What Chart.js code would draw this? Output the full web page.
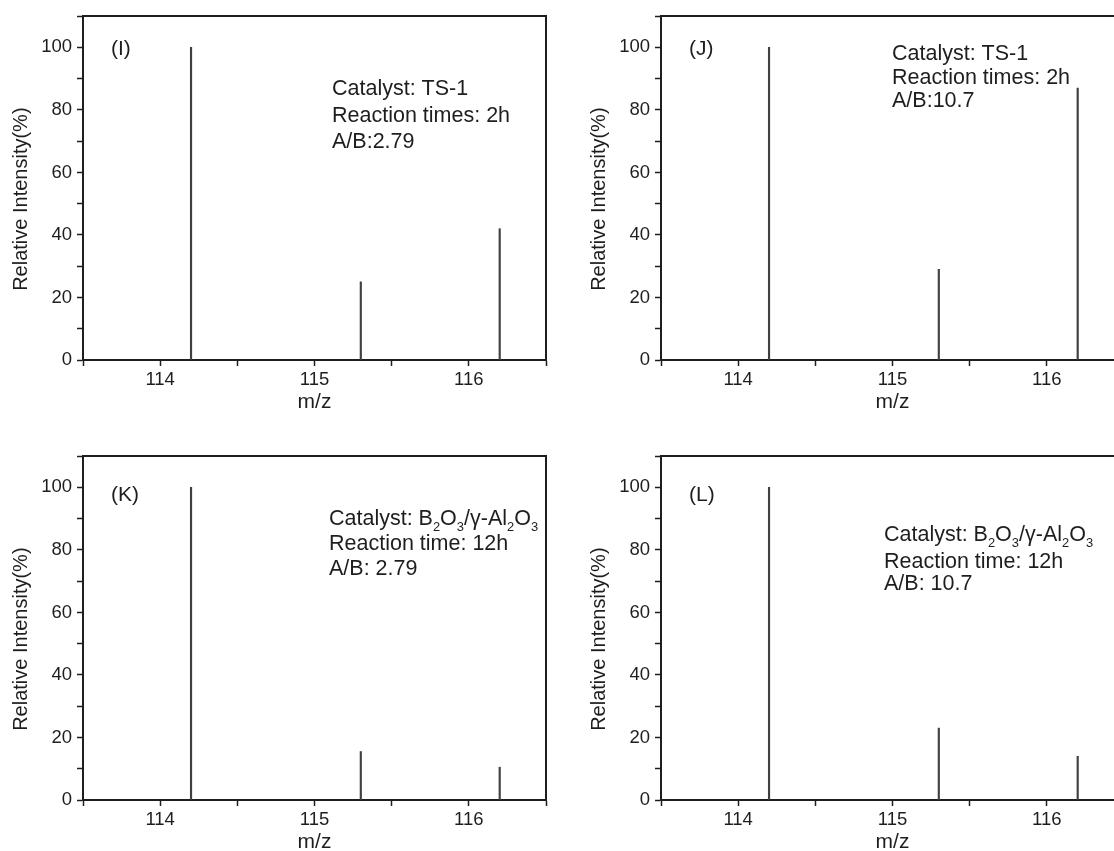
<!DOCTYPE html>
<html><head><meta charset="utf-8">
<script src="https://cdn.jsdelivr.net/npm/chart.js@4.4.1/dist/chart.umd.min.js"></script>
<style>
html,body{margin:0;padding:0;background:#fff;overflow:hidden;width:1114px;height:851px;position:relative;}
.p{position:absolute;width:560px;height:430px;}
</style></head><body>
<div class="p" style="left:0;top:0"><canvas id="cI" width="560" height="430"></canvas></div>
<div class="p" style="left:578px;top:0"><canvas id="cJ" width="560" height="430"></canvas></div>
<div class="p" style="left:0;top:440px"><canvas id="cK" width="560" height="430"></canvas></div>
<div class="p" style="left:578px;top:440px"><canvas id="cL" width="560" height="430"></canvas></div>
<script>
// ---- data ----
const mzValues = [114.2, 115.3, 116.2];
const intensityI = [100, 25, 42];
const intensityJ = [100, 29, 87];
const intensityK = [100, 15.5, 10.5];
const intensityL = [100, 23, 14];
const panelLabels = ['(I)', '(J)', '(K)', '(L)'];
const notesI = ['Catalyst: TS-1', 'Reaction times: 2h', 'A/B:2.79'];
const notesJ = ['Catalyst: TS-1', 'Reaction times: 2h', 'A/B:10.7'];
const notesK = ['Catalyst: B_2O_3/\u03b3-Al_2O_3', 'Reaction time: 12h', 'A/B: 2.79'];
const notesL = ['Catalyst: B_2O_3/\u03b3-Al_2O_3', 'Reaction time: 12h', 'A/B: 10.7'];
const xMin = 113.5, xMax = 116.5, xStep = 0.5;
const yMin = 0, yMax = 110, yStep = 10, yLabelStep = 20, yLabelMax = 100;
const xTitle = 'm/z';
const yTitle = 'Relative Intensity(%)';

const FONT = "'Liberation Sans', Arial, sans-serif";
const INK = '#1e1e1e';

function drawRich(ctx, text, x, y, size) {
  const parts = text.split(/_(\d)/);
  let cx = x;
  parts.forEach((p, i) => {
    if (p === '') return;
    const sub = i % 2 === 1;
    const s = sub ? size * 0.6 : size;
    ctx.font = s + 'px ' + FONT;
    ctx.fillText(p, cx, sub ? y + size * 0.28 : y);
    cx += ctx.measureText(p).width;
  });
}

const framePlugin = {
  id: 'frameNotes',
  afterDraw(chart, args, opts) {
    const {ctx, chartArea: a} = chart;
    ctx.save();
    ctx.strokeStyle = INK;
    ctx.lineWidth = 2;
    ctx.beginPath();
    ctx.moveTo(a.left - 1, a.top);
    ctx.lineTo(a.right, a.top);
    ctx.lineTo(a.right, a.bottom);
    ctx.stroke();
    ctx.fillStyle = INK;
    ctx.textBaseline = 'alphabetic';
    ctx.textAlign = 'left';
    ctx.font = opts.labelSize + 'px ' + FONT;
    ctx.fillText(opts.label, a.left + opts.labelDx, a.top + opts.labelBase);
    opts.lines.forEach((t, i) => {
      drawRich(ctx, t, a.left + opts.dx, a.top + opts.bases[i], opts.size);
    });
    ctx.restore();
  }
};

function makeChart(id, values, label, lines, dx, bases, labelBase) {
  new Chart(document.getElementById(id), {
    type: 'bar',
    data: {
      datasets: [{
        data: mzValues.map((x, i) => ({x: x, y: values[i]})),
        backgroundColor: '#404040',
        borderWidth: 0,
        barThickness: 1.5
      }]
    },
    options: {
      responsive: false,
      animation: false,
      layout: {padding: {top: 14, right: 14, left: 0, bottom: 0}},
      plugins: {
        legend: {display: false},
        tooltip: {enabled: false},
        frameNotes: {label: label, lines: lines, dx: dx, bases: bases, labelDx: 28, labelBase: labelBase, size: 21.5, labelSize: 21}
      },
      scales: {
        x: {
          type: 'linear', min: xMin, max: xMax, offset: false,
          afterFit: s => { s.height = 70; },
          border: {display: true, color: INK, width: 2},
          grid: {display: true, drawOnChartArea: false, drawTicks: true, tickLength: 6, tickColor: INK, tickWidth: 1.5, offset: false},
          ticks: {stepSize: xStep, autoSkip: false, maxRotation: 0, padding: 3, color: INK,
            font: {family: FONT, size: 18.5},
            callback: v => Number.isInteger(v) ? String(v) : ''},
          title: {display: true, text: xTitle, color: INK, font: {family: FONT, size: 21}, padding: {top: 0, bottom: 15}}
        },
        y: {
          type: 'linear', min: yMin, max: yMax,
          afterFit: s => { s.width = 83; },
          border: {display: true, color: INK, width: 2},
          grid: {display: true, drawOnChartArea: false, drawTicks: true, tickLength: 6, tickColor: INK, tickWidth: 1.5},
          ticks: {stepSize: yStep, autoSkip: false, padding: 5, color: INK,
            font: {family: FONT, size: 18.5},
            callback: v => (v % yLabelStep === 0 && v <= yLabelMax) ? String(v) : ''},
          title: {display: true, text: yTitle + '    ', color: INK, font: {family: FONT, size: 20}, padding: {top: 9, bottom: 0}}
        }
      }
    },
    plugins: [framePlugin]
  });
}

makeChart('cI', intensityI, panelLabels[0], notesI, 249, [79, 106, 132], 39);
makeChart('cJ', intensityJ, panelLabels[1], notesJ, 231, [44, 68, 91], 39);
makeChart('cK', intensityK, panelLabels[2], notesK, 246, [69, 94, 119], 45);
makeChart('cL', intensityL, panelLabels[3], notesL, 223, [85, 112, 134], 45);
</script>
</body></html>
